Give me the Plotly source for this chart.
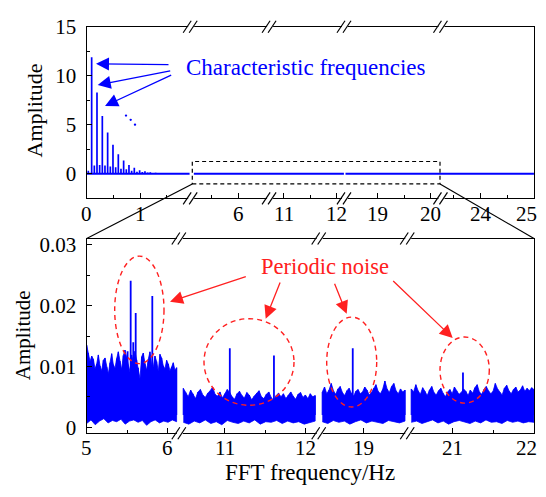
import numpy as np
import plotly.graph_objects as go

# The page shows the figure at an 8px body offset; the figure itself is 530x481.
PAGE_OFF = 8
W, H = 530, 481
FONT = "Liberation Serif"
BLUE = "#0000ff"
RED = "#ff2020"

# ---------------- data ----------------
# top panel: characteristic frequency lines (Hz, amplitude)
top_freq = [0.03, 0.093, 0.143, 0.193, 0.243, 0.293, 0.343, 0.393, 0.443, 0.493,
            0.543, 0.593, 0.643, 0.693, 0.743, 0.793, 0.843, 0.893, 0.943, 0.993,
            1.043, 1.093, 1.143, 1.193, 1.243, 1.293]
top_amp = [0.3, 11.9, 0.85, 8.3, 0.9, 5.9, 0.85, 4.2, 0.75, 2.95,
           0.65, 2.0, 0.5, 1.35, 0.45, 0.9, 0.3, 0.6, 0.2, 0.35,
           0.18, 0.25, 0.12, 0.15, 0.08, 0.1]

# top panel axis segments (real lo, real hi, shift)
TOP_SEGS = [(0.0, 1.96, 0.0), (5.11, 6.59, 3.15), (10.75, 12.15, 7.305),
            (18.38, 20.2, 13.545), (23.27, 25.0, 16.61)]
top_ticks = [0, 1, 6, 11, 12, 19, 20, 24, 25]
top_minor = [0.5, 1.5, 5.5, 11.5, 19.5, 23.5, 24.5]
top_base = [(0.0, 1.93), (5.16, 12.13), (18.40, 25.0)]

# bottom panel axis segments
BOT_SEGS = [(5.0, 6.15, 5.0), (10.44, 12.17, 9.293), (18.47, 19.555, 15.585),
            (20.45, 22.0, 16.478)]
bot_ticks = [5, 6, 11, 12, 19, 21, 22]
bot_minor = [5.5, 11.5, 21.5]

# bottom panel: noise band envelopes (units of 1e-4), per segment
UNIT = 1e-4
noise_ranges = [(5.0, 6.11), (10.486, 12.114), (18.494, 19.515), (20.486, 22.0)]
noise_upper = [
    [135, 122, 108, 117, 112, 96, 104, 119, 101, 93, 110, 114, 99, 88, 106, 121, 103, 97,
     113, 124, 109, 95, 118, 127, 115, 100, 91, 119, 107, 125, 111, 98, 80, 116, 122, 105,
     94, 112, 124, 103, 99, 117, 108, 92, 120, 114, 101, 96, 110, 104, 93, 99, 106, 94, 98],
    [64, 57, 50, 61, 55, 47, 58, 62, 53, 49, 56, 60, 66, 54, 51, 58, 48, 55, 62, 57, 50, 46,
     55, 59, 52, 48, 57, 53, 45, 51, 56, 60, 50, 47, 54, 58, 49, 44, 52, 56, 50, 55, 47, 53,
     58, 51, 46, 54, 57, 49, 53, 47, 55, 50, 52],
    [58, 66, 55, 61, 72, 60, 54, 63, 67, 57, 52, 60, 64, 56, 51, 59, 62, 55, 58, 66, 61, 53,
     57, 64, 70, 59, 55, 62, 76, 63, 57, 67, 72, 60, 55, 63, 58, 61],
    [63, 58, 70, 60, 54, 65, 59, 52, 61, 67, 57, 53, 60, 64, 56, 50, 58, 62, 55, 66, 60, 54,
     57, 63, 59, 52, 61, 56, 65, 70, 58, 54, 62, 67, 60, 55, 59, 72, 63, 57, 53, 64, 69, 60,
     55, 62, 66, 58, 61, 68, 59, 64, 60, 65, 62],
]
noise_lower = [
    [6, 12, 4, 10, 14, 7, 11, 9, 13, 5, 10, 12, 8, 11, 3, 9, 12, 7, 10, 8, 12, 9],
    [8, 5, 10, 7, 12, 6, 9, 4, 11, 8, 6, 10, 7, 12, 5, 9, 8, 11, 6, 10, 7, 9, 5, 8, 10],
    [9, 6, 11, 8, 10, 5, 9, 12, 7, 10, 8, 6, 11, 9, 7, 10],
    [8, 10, 6, 9, 12, 7, 10, 5, 9, 11, 8, 6, 10, 7, 12, 8, 9, 6, 11, 8, 10, 7, 9, 8],
]
# bottom panel: periodic noise lines
spike_freq = [5.505, 5.543, 5.575, 5.605, 5.81, 11.06, 11.605, 18.87, 21.124]
spike_amp = [0.0125, 0.0241, 0.014, 0.0188, 0.0216, 0.013, 0.0118, 0.013, 0.009]


def to_disp(x, segs):
    for lo, hi, sh in segs:
        if lo - 1e-9 <= x <= hi + 1e-9:
            return x - sh
    return None


def px(x):
    return (x - PAGE_OFF) / W


def py(y):
    return 1 - (y - PAGE_OFF) / H


fig = go.Figure()

# ---- top panel ----
for lo, hi in top_base:
    xs = []
    for slo, shi, sh in TOP_SEGS:
        a, b = max(lo, slo), min(hi, shi)
        if a < b:
            xs.append((a - sh, b - sh))
    fig.add_trace(go.Scatter(x=[xs[0][0], xs[-1][1]], y=[0, 0], mode="lines",
                             line=dict(color=BLUE, width=2), xaxis="x", yaxis="y",
                             hoverinfo="skip"))
sx, sy = [], []
for f, a in zip(top_freq, top_amp):
    d = to_disp(f, TOP_SEGS)
    sx += [d, d, None]
    sy += [0, a, None]
fig.add_trace(go.Scatter(x=sx, y=sy, mode="lines", line=dict(color=BLUE, width=1.7),
                         xaxis="x", yaxis="y", hoverinfo="skip"))

# ---- bottom panel noise band ----
for (lo, hi), up, low in zip(noise_ranges, noise_upper, noise_lower):
    xu = [to_disp(v, BOT_SEGS) for v in np.linspace(lo, hi, len(up))]
    xl = [to_disp(v, BOT_SEGS) for v in np.linspace(lo, hi, len(low))]
    xx = xu + xl[::-1]
    yy = [v * UNIT for v in up] + [v * UNIT for v in low[::-1]]
    fig.add_trace(go.Scatter(x=xx, y=yy, fill="toself", fillcolor=BLUE, mode="lines",
                             line=dict(color=BLUE, width=0.8), xaxis="x2", yaxis="y2",
                             hoverinfo="skip"))
    kx, ky = [], []
    for xv, v in zip(xu, up):
        kx += [xv, xv, None]
        ky += [0.002, v * UNIT, None]
    fig.add_trace(go.Scatter(x=kx, y=ky, mode="lines", line=dict(color=BLUE, width=1.2),
                             xaxis="x2", yaxis="y2", hoverinfo="skip"))
bx, by = [], []
for f, a in zip(spike_freq, spike_amp):
    d = to_disp(f, BOT_SEGS)
    bx += [d, d, None]
    by += [0.002, a, None]
fig.add_trace(go.Scatter(x=bx, y=by, mode="lines", line=dict(color=BLUE, width=1.8),
                         xaxis="x2", yaxis="y2", hoverinfo="skip"))

TICK_SIZE = 21
tickfont = dict(family=FONT, size=TICK_SIZE, color="black")
axis_common = dict(showline=True, linecolor="black", linewidth=1.3, mirror=True,
                   ticks="inside", ticklen=5, tickwidth=1.2, tickcolor="black",
                   showgrid=False, zeroline=False, tickfont=tickfont, fixedrange=True,
                   ticklabeloverflow="allow")

TOP_Y0, TOP_Y1 = 15.0, 193.3      # top panel, page pixels
BOT_Y0, BOT_Y1 = 235.0, 437.3     # bottom panel
X0, X1 = 86.7, 534.0

top_scale = (167.7 - TOP_Y0) / 15.0
fig.update_layout(
    width=W, height=H, margin=dict(l=0, r=0, t=0, b=0),
    paper_bgcolor="white", plot_bgcolor="white", showlegend=False,
    xaxis=dict(domain=[px(X0), px(X1)], range=[0, to_disp(25, TOP_SEGS) + 0.001],
               anchor="y", tickmode="array",
               tickvals=[to_disp(v, TOP_SEGS) for v in top_ticks], showticklabels=False,
               minor=dict(tickmode="array", tickvals=[to_disp(v, TOP_SEGS) for v in top_minor],
                          ticks="inside", ticklen=3.5, tickcolor="black", tickwidth=1.1),
               **axis_common),
    yaxis=dict(domain=[py(TOP_Y1), py(TOP_Y0)],
               range=[-(TOP_Y1 - 167.7) / top_scale, 15.001], anchor="x",
               tickmode="array", tickvals=[0, 5, 10, 15], ticklabelstandoff=5,
               minor=dict(tickmode="array", tickvals=[2.5, 7.5, 12.5], ticks="inside",
                          ticklen=3.5, tickcolor="black", tickwidth=1.1),
               **axis_common),
    xaxis2=dict(domain=[px(X0), px(X1)], range=[0, to_disp(22, BOT_SEGS) + 0.001],
                anchor="y2", tickmode="array",
                tickvals=[to_disp(v, BOT_SEGS) for v in bot_ticks], showticklabels=False,
                minor=dict(tickmode="array", tickvals=[to_disp(v, BOT_SEGS) for v in bot_minor],
                           ticks="inside", ticklen=3.5, tickcolor="black", tickwidth=1.1),
                **axis_common),
    yaxis2=dict(domain=[py(BOT_Y1), py(BOT_Y0)], range=[-0.001, 0.03106], anchor="x2",
                tickmode="array", tickvals=[0, 0.01, 0.02, 0.03],
                ticktext=["0", "0.01", "0.02", "0.03"], ticklabelstandoff=5,
                minor=dict(tickmode="array", tickvals=[0.005, 0.015, 0.025], ticks="inside",
                           ticklen=3.5, tickcolor="black", tickwidth=1.1),
                **axis_common),
)

shapes = []


def add_break(xref, disp, axis_py):
    shapes.append(dict(type="line", xref=xref, xsizemode="pixel", xanchor=disp, x0=-3, x1=3,
                       yref="paper", ysizemode="pixel", yanchor=py(axis_py), y0=0, y1=0,
                       line=dict(color="white", width=3)))
    for off in (-4, 2):
        shapes.append(dict(type="line", xref=xref, xsizemode="pixel", xanchor=disp,
                           x0=off - 4, x1=off + 4, yref="paper", ysizemode="pixel",
                           yanchor=py(axis_py), y0=-6, y1=6,
                           line=dict(color="black", width=1.2)))


top_breaks = [TOP_SEGS[i][1] - TOP_SEGS[i][2] for i in range(len(TOP_SEGS) - 1)]
bot_breaks = [BOT_SEGS[i][1] - BOT_SEGS[i][2] for i in range(len(BOT_SEGS) - 1)]
for d in top_breaks:
    add_break("x", d, TOP_Y0)
    add_break("x", d, TOP_Y1)
for d in bot_breaks:
    add_break("x2", d, BOT_Y0)
    add_break("x2", d, BOT_Y1)

# dashed zoom rectangle and connectors
shapes.append(dict(type="rect", xref="paper", yref="paper", x0=px(192.3), x1=px(440),
                   y0=py(178.3), y1=py(155), line=dict(color="black", width=1.2, dash="4px,3px")))
shapes.append(dict(type="line", xref="paper", yref="paper", x0=px(192.3), y0=py(178.3),
                   x1=px(X0), y1=py(BOT_Y0), line=dict(color="black", width=1.2)))
shapes.append(dict(type="line", xref="paper", yref="paper", x0=px(440), y0=py(178.3),
                   x1=px(X1), y1=py(BOT_Y0), line=dict(color="black", width=1.2)))

# red dashed ellipses
for x0, x1, y0, y1 in [(114.7, 164, 253.3, 365), (204, 294, 318.3, 408.3),
                       (326.7, 376.7, 316.7, 410), (440, 489.3, 337.3, 406)]:
    shapes.append(dict(type="circle", xref="paper", yref="paper", x0=px(x0), x1=px(x1),
                       y0=py(y1), y1=py(y0), line=dict(color=RED, width=1.4, dash="5px,4px")))

# blue dots
for cx, cy in [(126, 107.3), (130.7, 111.7), (135, 116.7)]:
    shapes.append(dict(type="circle", xref="paper", yref="paper", x0=px(cx - 1.2), x1=px(cx + 1.2),
                       y0=py(cy + 1.2), y1=py(cy - 1.2), fillcolor=BLUE, line=dict(width=0)))
fig.update_layout(shapes=shapes)

ann = []

# x tick labels placed at the axis tick values (last label nudged inside the page)
for v in top_ticks:
    ann.append(dict(xref="x", yref="paper", x=to_disp(v, TOP_SEGS), y=py(209.5),
                    text=str(v), showarrow=False, xanchor="center", yanchor="middle",
                    xshift=-7 if v == top_ticks[-1] else 0, font=tickfont))
for v in bot_ticks:
    ann.append(dict(xref="x2", yref="paper", x=to_disp(v, BOT_SEGS), y=py(452.5),
                    text=str(v), showarrow=False, xanchor="center", yanchor="middle",
                    xshift=-7 if v == bot_ticks[-1] else 0, font=tickfont))


def arrow(tail, tip, color):
    ann.append(dict(xref="paper", yref="paper", x=px(tip[0]), y=py(tip[1]),
                    ax=tail[0] - tip[0], ay=tail[1] - tip[1], axref="pixel", ayref="pixel",
                    text="", showarrow=True, arrowhead=2, arrowsize=2.0, arrowwidth=1.3,
                    arrowcolor=color, standoff=0, startstandoff=0))


arrow((170, 54.3), (96, 53.5), BLUE)
arrow((171.7, 61), (97.7, 75.5), BLUE)
arrow((172.7, 65.7), (105, 97.3), BLUE)
arrow((247.3, 275), (170, 300.7), RED)
arrow((280.7, 280.7), (265.7, 318.3), RED)
arrow((334, 281.7), (346.7, 313.3), RED)
arrow((391.7, 280), (452.7, 338.3), RED)

ann.append(dict(xref="paper", yref="paper", x=px(184), y=py(57.5), xanchor="left",
                yanchor="middle", text="Characteristic frequencies", showarrow=False,
                font=dict(family=FONT, size=23, color=BLUE)))
ann.append(dict(xref="paper", yref="paper", x=px(259), y=py(264), xanchor="left",
                yanchor="middle", text="Periodic noise", showarrow=False,
                font=dict(family=FONT, size=22.5, color=RED)))
ann.append(dict(xref="paper", yref="paper", x=px(34), y=py(102), xanchor="center",
                yanchor="middle", text="Amplitude", textangle=-90, showarrow=False,
                font=dict(family=FONT, size=22, color="black")))
ann.append(dict(xref="paper", yref="paper", x=px(22.5), y=py(336), xanchor="center",
                yanchor="middle", text="Amplitude", textangle=-90, showarrow=False,
                font=dict(family=FONT, size=21, color="black")))
ann.append(dict(xref="paper", yref="paper", x=px(310), y=py(478.5), xanchor="center",
                yanchor="middle", text="FFT frequency/Hz", showarrow=False,
                font=dict(family=FONT, size=23, color="black")))
fig.update_layout(annotations=ann)

fig.write_html("out.html", config={"displayModeBar": False})
